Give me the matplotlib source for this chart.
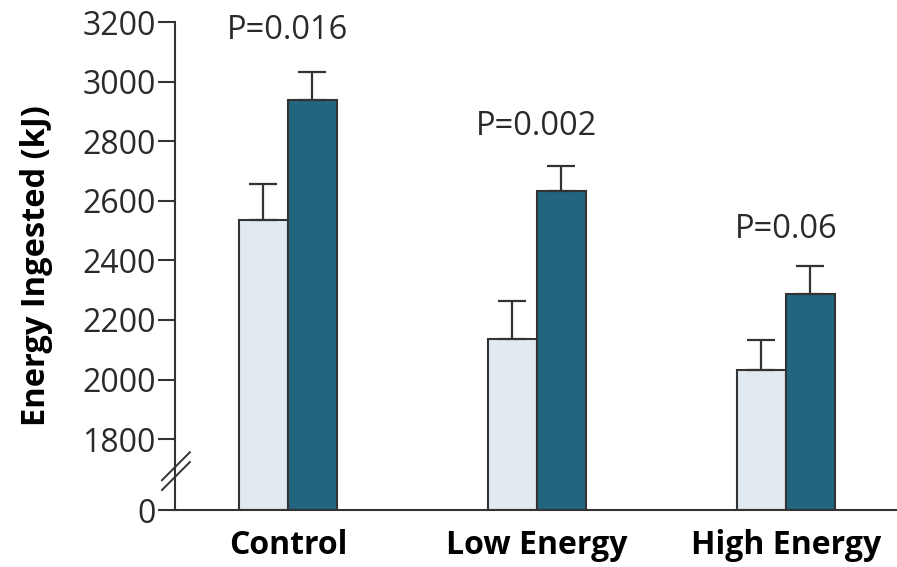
import numpy as np
import matplotlib
matplotlib.use("Agg")
import matplotlib.pyplot as plt

plt.rcParams['font.family'] = ['Open Sans', 'DejaVu Sans']

# data
groups = ["Control", "Low Energy", "High Energy"]
light_vals = [2535, 2136, 2032]
light_err = [121, 127, 101]
dark_vals = [2938, 2633, 2287]
dark_err = [94, 84, 94]
p_labels = ["P=0.016", "P=0.002", "P=0.06"]
p_ypos = [3173, 2848, 2502]
ticks = [1800, 2000, 2200, 2400, 2600, 2800, 3000, 3200]

BASE = 1562  # where the broken axis puts zero

light_c = "#e2eaf1"
dark_c = "#23657f"
edge = "#333333"

fig = plt.figure(figsize=(8.97, 5.67), dpi=100)
ax = fig.add_axes([0.195, 0.1005, 0.805, 0.8606])

x = np.arange(len(groups))
w = 0.197
eb = dict(ecolor=edge, elinewidth=1.6, capsize=10, capthick=1.6)
ax.bar(x - w/2, np.array(light_vals) - BASE, w, bottom=BASE, color=light_c,
       edgecolor=edge, linewidth=1.5, yerr=[np.zeros(3), light_err], error_kw=eb)
ax.bar(x + w/2, np.array(dark_vals) - BASE, w, bottom=BASE, color=dark_c,
       edgecolor=edge, linewidth=1.5, yerr=[np.zeros(3), dark_err], error_kw=eb)

for i, (lab, yy) in enumerate(zip(p_labels, p_ypos)):
    ax.text(i, yy, lab, ha="center", va="center", fontsize=23.5, color="#2a2a2a")

ax.set_xlim(-0.454, 2.446)
ax.set_ylim(BASE, 3200)
ax.set_yticks([BASE] + ticks)
ax.set_yticklabels(["0"] + [str(t) for t in ticks])
ax.set_xticks(x)
ax.set_xticklabels(groups, fontsize=23, fontweight="bold")
ax.tick_params(axis="x", length=0, pad=14)
ax.tick_params(axis="y", length=12, width=1.5, color=edge, labelsize=23, pad=2,
               labelcolor="#2a2a2a")
for s in ["top", "right"]:
    ax.spines[s].set_visible(False)
for s in ["left", "bottom"]:
    ax.spines[s].set_linewidth(1.5)
    ax.spines[s].set_color(edge)
ax.set_ylabel("Energy Ingested (kJ)", fontsize=23.5, fontweight="bold", labelpad=21)

# axis break marks
for yc in (1709, 1676):
    ax.plot([-0.506, -0.394], [yc - 47, yc + 47],
            color=edge, lw=1.4, clip_on=False)

fig.savefig("out.png", dpi=100)
